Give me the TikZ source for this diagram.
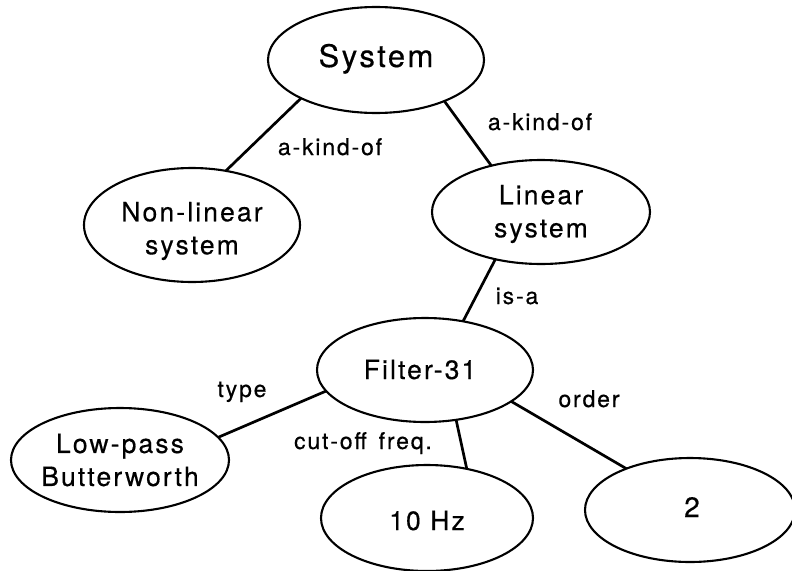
\documentclass[tikz,border=0pt]{standalone}
\usepackage{fontspec}
\setmainfont{TeX Gyre Heros}[LetterSpace=8, FakeBold=0.4]
\usetikzlibrary{shapes.geometric}
\begin{document}
\begin{tikzpicture}[x=1pt,y=-1pt,
  ell/.style={draw, ellipse, line width=2.1pt, inner sep=0pt, outer sep=0pt},
  lbl/.style={inner sep=0pt, anchor=base, font=\fontsize{23}{27}\selectfont},
  ntext/.style={inner sep=0pt, align=center, font=\fontsize{26.5}{33}\selectfont},
  edge/.style={line width=2.7pt}]
\useasboundingbox[fill=white] (0,0) rectangle (792,570);

% ellipses
\node[ell, minimum width=216pt, minimum height=106pt] (sys) at (376,60) {};
\node[ell, minimum width=216pt, minimum height=114pt] (nonlin) at (192,225) {};
\node[ell, minimum width=218pt, minimum height=104pt] (lin) at (541,212) {};
\node[ell, minimum width=216pt, minimum height=104pt] (filt) at (425,370) {};
\node[ell, minimum width=218pt, minimum height=104pt] (lp) at (120,460) {};
\node[ell, minimum width=212pt, minimum height=106pt] (hz) at (427,518) {};
\node[ell, minimum width=210pt, minimum height=104pt] (two) at (690,510) {};

% node texts
\node[inner sep=0pt, anchor=base, font=\fontsize{31}{36}\selectfont] (syst) at (376,67) {System};
\node[ntext] (nonlint) at (192,231) {Non-linear\\system};
\node[ntext] (lint) at (541,214) {Linear\\system};
\node[ntext, anchor=base] (filtt) at (420,379) {Filter-31};
\node[ntext] (lpt) at (120,460) {Low-pass\\Butterworth};
\node[ntext, anchor=base] (hzt) at (427,530) {10 Hz};
\node[ntext, anchor=base, font=\fontsize{28}{33}\selectfont] (twot) at (692,517) {2};

% connectors
\draw[edge] (sys.207) -- (nonlin.58);
\draw[edge] (sys.329) -- (lin.137);
\draw[edge] (lin.226) -- (filt.52);
\draw[edge] (filt.192) -- (lp.13);
\draw[edge] (filt.302) -- (hz.51);
\draw[edge] (filt.340) -- (two.147);

% labels
\node[lbl] (l1) at (330,155) {a-kind-of};
\node[lbl] (l2) at (540,130) {a-kind-of};
\node[lbl] (l3) at (517,304) {is-a};
\node[lbl] (l4) at (242,397) {type};
\node[lbl] (l5) at (363,449) {cut-off\hspace{12pt}freq.};
\node[lbl] (l6) at (589,407) {order};
\end{tikzpicture}
\end{document}
